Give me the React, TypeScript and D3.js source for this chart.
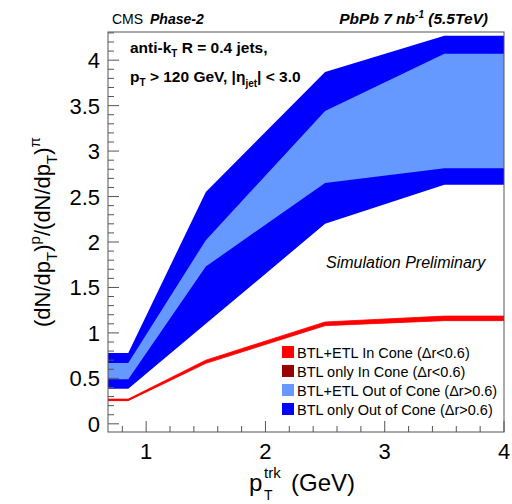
import * as d3 from 'd3';

// pT bin points (GeV)
const ptPoints = [0.68, 0.85, 1.5, 2.5, 3.5, 4.0];
// BTL only out of cone (dark blue)
const outerLow = [0.385, 0.385, 1.1, 2.2, 2.63, 2.63];
const outerHigh = [0.78, 0.78, 2.55, 3.87, 4.27, 4.27];
// BTL+ETL out of cone (light blue)
const innerLow = [0.49, 0.49, 1.73, 2.65, 2.81, 2.81];
const innerHigh = [0.67, 0.67, 2.02, 3.44, 4.07, 4.07];
// in cone (red / dark red)
const redLow = [0.255, 0.255, 0.665, 1.08, 1.135, 1.135];
const redHigh = [0.272, 0.272, 0.7, 1.12, 1.185, 1.185];
const darkRed = [0.262, 0.262, 0.68, 1.1, 1.16, 1.16];

const xTicks = [1, 2, 3, 4];
const yTicks = [0, 0.5, 1, 1.5, 2, 2.5, 3, 3.5, 4];

const legendItems = [
  {label: 'BTL+ETL In Cone (\u0394r<0.6)', color: '#ff0000'},
  {label: 'BTL only In Cone (\u0394r<0.6)', color: '#990000'},
  {label: 'BTL+ETL Out of Cone (\u0394r>0.6)', color: '#6699ff'},
  {label: 'BTL only Out of Cone (\u0394r>0.6)', color: '#0000ff'},
];

// layout
const width = 512;
const height = 504;
const left = 108;
const right = 504;
const top = 32;
const bottom = 432;
const font = 'Liberation Sans, Arial, Helvetica, sans-serif';

export default function App() {
  const x = d3.scaleLinear().domain([0.68, 4.0]).range([left, right]);
  const y = d3.scaleLinear().domain([-0.09, 4.31]).range([bottom, top]);

  const band = (lo: number[], hi: number[]) =>
    d3.area<number>()
      .x((_, i) => x(ptPoints[i]))
      .y0((_, i) => y(lo[i]))
      .y1((_, i) => y(hi[i]))(ptPoints) || '';

  const line = d3.line<number>()
    .x((_, i) => x(ptPoints[i]))
    .y(d => y(d));

  const xMinor = d3.range(0.8, 4.001, 0.2).filter(v => Math.abs(v - Math.round(v)) > 1e-6);
  const yMinor = d3.range(0, 4.301, 0.1).filter(v => Math.abs(v * 2 - Math.round(v * 2)) > 1e-6);

  return (
    <svg width={width} height={height} style={{position: 'absolute', left: 0, top: 0}}>
      <rect x={0} y={0} width={width} height={height} fill='white' />
      <defs>
        <clipPath id='plot'>
          <rect x={left} y={top} width={right - left} height={bottom - top} />
        </clipPath>
      </defs>
      <g clipPath='url(#plot)'>
        <path d={band(outerLow, outerHigh)} fill='#0000ff' />
        <path d={band(innerLow, innerHigh)} fill='#6699ff' />
        <path d={line(darkRed) || ''} fill='none' stroke='#990000' strokeWidth={1} />
        <path d={band(redLow, redHigh)} fill='#ff0000' stroke='#ff0000' strokeWidth={0.8} />
      </g>

      {/* frame */}
      <rect x={left} y={top} width={right - left} height={bottom - top} fill='none' stroke='#555' strokeWidth={1} />

      {/* x ticks */}
      {xTicks.map(t => (
        <g key={'xt' + t}>
          <line x1={x(t)} x2={x(t)} y1={bottom} y2={bottom - 11} stroke='#555' />
          <text x={x(t)} y={bottom + 27} fontSize={22} textAnchor='middle' fontFamily={font}>{t}</text>
        </g>
      ))}
      {xMinor.map(t => (
        <line key={'xm' + t} x1={x(t)} x2={x(t)} y1={bottom} y2={bottom - 6} stroke='#555' />
      ))}

      {/* y ticks */}
      {yTicks.map(t => (
        <g key={'yt' + t}>
          <line x1={left} x2={left + 11} y1={y(t)} y2={y(t)} stroke='#555' />
          <text x={left - 8} y={y(t) + 8} fontSize={22} textAnchor='end' fontFamily={font}>{t}</text>
        </g>
      ))}
      {yMinor.map(t => (
        <line key={'ym' + t} x1={left} x2={left + 6} y1={y(t)} y2={y(t)} stroke='#555' />
      ))}

      {/* x title */}
      <g fontFamily={font}>
        <text x={249} y={491} fontSize={24}>p</text>
        <text x={264} y={478} fontSize={15}>trk</text>
        <text x={264} y={500} fontSize={14}>T</text>
        <text x={291} y={491} fontSize={24}>(GeV)</text>
      </g>

      {/* y title */}
      <text transform={`translate(50,${232}) rotate(-90)`} fontSize={22} textAnchor='middle' fontFamily={font}>
        (dN/dp<tspan dy={7} fontSize={15}>T</tspan><tspan dy={-7}>)</tspan>
        <tspan dy={-10} fontSize={15}>p</tspan>
        <tspan dy={10}>/(dN/dp</tspan><tspan dy={7} fontSize={15}>T</tspan><tspan dy={-7}>)</tspan>
        <tspan dy={-10} fontSize={15}>π</tspan>
      </text>

      {/* header */}
      <text x={112} y={24} fontSize={14} fontFamily={font}>
        CMS <tspan fontWeight='bold' fontStyle='italic' dx={3}>Phase-2</tspan>
      </text>
      <text x={488} y={24} fontSize={15.5} fontFamily={font} fontWeight='bold' fontStyle='italic' textAnchor='end'>
        PbPb 7 nb<tspan dy={-6} fontSize={10}>-1</tspan><tspan dy={6}> (5.5TeV)</tspan>
      </text>

      {/* selection text */}
      <text x={130} y={53} fontSize={15.5} fontWeight='bold' fontFamily={font}>
        anti-k<tspan dy={4} fontSize={10}>T</tspan><tspan dy={-4}> R = 0.4 jets,</tspan>
      </text>
      <text x={130} y={82} fontSize={15.5} fontWeight='bold' fontFamily={font}>
        p<tspan dy={4} fontSize={10}>T</tspan><tspan dy={-4}> &gt; 120 GeV, |η</tspan>
        <tspan dy={5} fontSize={10}>jet</tspan><tspan dy={-5}>| &lt; 3.0</tspan>
      </text>

      <text x={326} y={268} fontSize={16} fontStyle='italic' fontFamily={font}>Simulation Preliminary</text>

      {/* legend */}
      {legendItems.map((d, i) => (
        <g key={d.label} transform={`translate(282,${346 + i * 19})`}>
          <rect x={0} y={0} width={12} height={12} fill={d.color} />
          <text x={15} y={11.5} fontSize={14.5} fontFamily={font}>{d.label}</text>
        </g>
      ))}
    </svg>
  );
}
